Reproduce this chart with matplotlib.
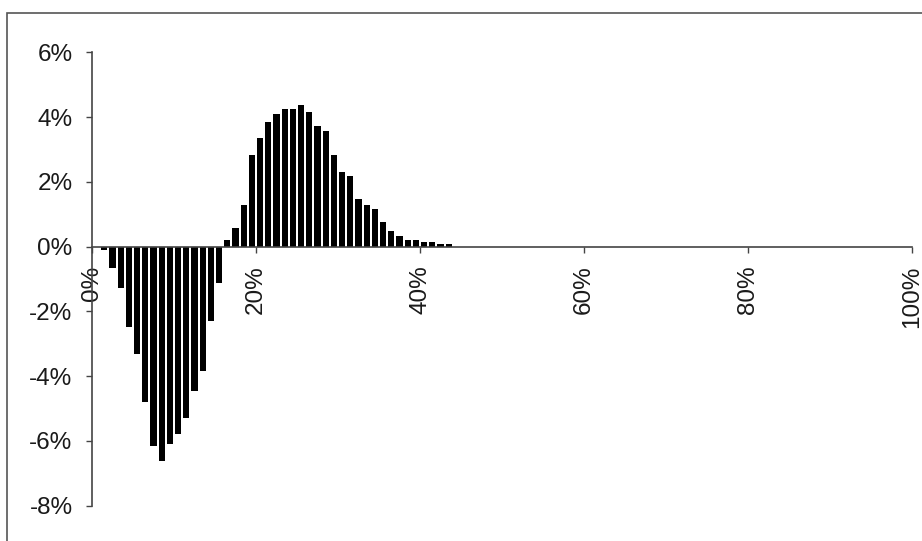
import matplotlib
matplotlib.use("Agg")
import matplotlib.pyplot as plt
from matplotlib.patches import Rectangle

plt.rcParams['font.family'] = ['Liberation Sans', 'DejaVu Sans']
plt.rcParams['axes.unicode_minus'] = False

# bucket centres (%) and bar values (%)
positions = [0.5, 1.5, 2.5, 3.5, 4.5, 5.5, 6.5, 7.5, 8.5, 9.5, 10.5,
             11.5, 12.5, 13.5, 14.5, 15.5, 16.5, 17.5, 18.5, 19.5, 20.5,
             21.5, 22.5, 23.5, 24.5, 25.5, 26.5, 27.5, 28.5, 29.5, 30.5,
             31.5, 32.5, 33.5, 34.5, 35.5, 36.5, 37.5, 38.5, 39.5, 40.5,
             41.5, 42.5, 43.5]
values = [0.0, -0.10, -0.65, -1.29, -2.49, -3.30, -4.80, -6.16, -6.62, -6.09, -5.78,
          -5.30, -4.47, -3.85, -2.29, -1.11, 0.20, 0.57, 1.28, 2.84, 3.37,
          3.84, 4.09, 4.24, 4.24, 4.37, 4.17, 3.72, 3.56, 2.84, 2.31,
          2.19, 1.47, 1.28, 1.16, 0.76, 0.50, 0.34, 0.22, 0.22, 0.15,
          0.15, 0.09, 0.09]

x_ticks = [0, 20, 40, 60, 80, 100]
x_labels = ['0%', '20%', '40%', '60%', '80%', '100%']
y_ticks = [-8, -6, -4, -2, 0, 2, 4, 6]
y_labels = ['-8%', '-6%', '-4%', '-2%', '0%', '2%', '4%', '6%']

fig = plt.figure(figsize=(9.22, 5.41), dpi=100)
fig.patch.set_facecolor('white')
ax = fig.add_axes([92 / 922, 1 - 505.7 / 541, 820 / 922, (505.7 - 52.5) / 541])

ax.bar(positions, values, width=0.74, color='black', edgecolor='none')

ax.set_xlim(0, 100)
ax.set_ylim(-8, 6)

axis_color = '#444444'
for s in ['top', 'right']:
    ax.spines[s].set_visible(False)
ax.spines['left'].set_color(axis_color)
ax.spines['left'].set_linewidth(1.2)
ax.spines['bottom'].set_position(('data', 0))
ax.spines['bottom'].set_color(axis_color)
ax.spines['bottom'].set_linewidth(1.2)

ax.set_xticks(x_ticks)
ax.set_xticklabels(x_labels, rotation=90, ha='center', va='top')
ax.set_yticks(y_ticks)
ax.set_yticklabels(y_labels)

ax.tick_params(axis='x', direction='out', length=4.5, width=1.0, color=axis_color,
               pad=9, labelsize=17.5, labelcolor='#1a1a1a')
ax.tick_params(axis='y', direction='out', length=4, width=1.0, color=axis_color,
               pad=10, labelsize=17.5, labelcolor='#1a1a1a')

# outer chart frame (partially cut off at right / bottom)
frame = Rectangle((7 / 922, -0.2), 1.2, 1.2 - 12.5 / 541,
                  transform=fig.transFigure, fill=False,
                  edgecolor='#555555', linewidth=1.2, clip_on=False)
fig.patches.append(frame)

fig.savefig('out.png', dpi=100, facecolor='white')
